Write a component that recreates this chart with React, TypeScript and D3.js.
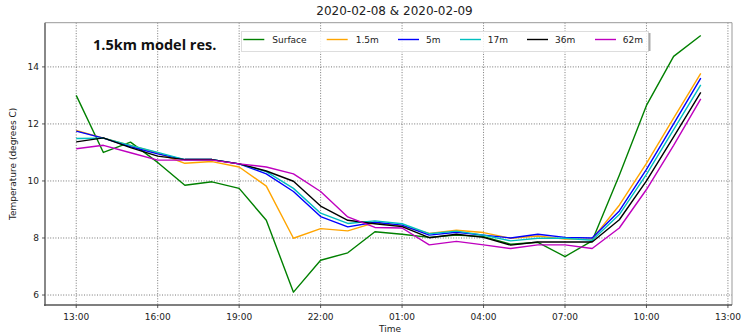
import React from "react";
import * as d3 from "d3";

const hours = d3.range(24);
const surface = [13.0, 11.0, 11.36, 10.65, 9.85, 9.97, 9.74, 8.62, 6.1, 7.22, 7.48, 8.22, 8.13, 8.02, 8.1, 8.05, 7.78, 7.85, 7.35, 7.9, 10.2, 12.65, 14.37, 15.1];
const m1_5 = [11.77, 11.5, 11.25, 10.98, 10.62, 10.68, 10.49, 9.82, 7.99, 8.33, 8.25, 8.54, 8.42, 8.16, 8.27, 8.19, 7.99, 8.07, 7.96, 7.96, 9.15, 10.62, 12.2, 13.77];
const m5 = [11.75, 11.5, 11.2, 10.95, 10.75, 10.75, 10.6, 10.25, 9.63, 8.75, 8.39, 8.55, 8.45, 8.1, 8.2, 8.1, 8.0, 8.13, 8.02, 8.0, 8.95, 10.41, 12.0, 13.61];
const m17 = [11.49, 11.5, 11.25, 11.0, 10.75, 10.75, 10.6, 10.33, 9.74, 8.87, 8.51, 8.6, 8.5, 8.15, 8.24, 8.1, 7.9, 7.99, 7.99, 7.92, 8.82, 10.23, 11.8, 13.37];
const m36 = [11.37, 11.51, 11.17, 10.87, 10.75, 10.75, 10.6, 10.35, 9.99, 9.12, 8.62, 8.5, 8.4, 8.01, 8.13, 8.02, 7.75, 7.86, 7.86, 7.86, 8.64, 10.0, 11.55, 13.11];
const m62 = [11.13, 11.25, 10.99, 10.73, 10.73, 10.73, 10.6, 10.49, 10.25, 9.63, 8.74, 8.37, 8.35, 7.76, 7.88, 7.76, 7.63, 7.76, 7.76, 7.63, 8.35, 9.7, 11.25, 12.88];

const seriesNames = ["Surface", "1.5m", "5m", "17m", "36m", "62m"];
const seriesValues = [surface, m1_5, m5, m17, m36, m62];
const seriesColors = ["#008000", "#FFA500", "#0000FF", "#00BFBF", "#000000", "#BF00BF"];
const yTicks = [6, 8, 10, 12, 14];

const W = 744;
const H = 335;
const M = { left: 45, right: 732, top: 22.7, bottom: 305 };
const start = new Date(2020, 1, 8, 13, 0, 0);
const HOUR = 3600 * 1000;

export default function App() {
  const x = d3
    .scaleTime()
    .domain([new Date(start.getTime() - 1.15 * HOUR), new Date(start.getTime() + 24.15 * HOUR)])
    .range([M.left, M.right]);
  const y = d3.scaleLinear().domain([5.65, 15.55]).range([M.bottom, M.top]);
  const xTicks = d3.range(0, 25, 3).map((h) => new Date(start.getTime() + h * HOUR));
  const fmt = d3.timeFormat("%H:%M");
  const line = d3
    .line<number>()
    .x((_, i) => x(new Date(start.getTime() + hours[i] * HOUR)))
    .y((v) => y(v));

  const legendItems = [
    { lx: 243.3, tx: 272.3 },
    { lx: 326.7, tx: 355.7 },
    { lx: 398, tx: 426 },
    { lx: 460, tx: 487.7 },
    { lx: 527, tx: 555 },
    { lx: 595, tx: 622.7 },
  ];
  const font = "DejaVu Sans, sans-serif";

  return (
    <svg width={W} height={H} style={{ position: "absolute", left: 0, top: 0, background: "#fff" }} fontFamily={font}>
      <rect x={0} y={0} width={W} height={H} fill="#fff" />
      {/* grid */}
      {xTicks.map((t, i) => (
        <line key={"gx" + i} x1={x(t)} x2={x(t)} y1={M.top} y2={M.bottom} stroke="#555" strokeWidth={0.8} strokeDasharray="1,1.6" />
      ))}
      {yTicks.map((v) => (
        <line key={"gy" + v} x1={M.left} x2={M.right} y1={y(v)} y2={y(v)} stroke="#555" strokeWidth={0.8} strokeDasharray="1,1.6" />
      ))}
      {/* series */}
      {seriesValues.map((vals, k) => (
        <path key={seriesNames[k]} d={line(vals) || ""} fill="none" stroke={seriesColors[k]} strokeWidth={1.4} strokeLinejoin="round" />
      ))}
      {/* spines */}
      <line x1={M.left} x2={M.right} y1={M.top} y2={M.top} stroke="#999" strokeWidth={1} />
      <line x1={M.right} x2={M.right} y1={M.top} y2={M.bottom} stroke="#999" strokeWidth={1} />
      <line x1={M.left} x2={M.left} y1={M.top} y2={M.bottom + 1} stroke="#888" strokeWidth={2} />
      <line x1={M.left - 1} x2={M.right} y1={M.bottom} y2={M.bottom} stroke="#555" strokeWidth={1.5} />
      {/* ticks */}
      {xTicks.map((t, i) => (
        <g key={"tx" + i}>
          <line x1={x(t)} x2={x(t)} y1={M.bottom} y2={M.bottom + 3} stroke="#333" strokeWidth={0.8} />
          <text x={x(t)} y={M.bottom + 15} textAnchor="middle" fontSize={9} fill="#222">
            {fmt(t)}
          </text>
        </g>
      ))}
      {yTicks.map((v) => (
        <g key={"ty" + v}>
          <line x1={M.left - 3} x2={M.left} y1={y(v)} y2={y(v)} stroke="#333" strokeWidth={0.8} />
          <text x={M.left - 6} y={y(v)} dy="0.35em" textAnchor="end" fontSize={9} fill="#222">
            {v}
          </text>
        </g>
      ))}
      {/* labels */}
      <text x={394.5} y={15} textAnchor="middle" fontSize={12} fill="#222">
        2020-02-08 &amp; 2020-02-09
      </text>
      <text x={390} y={332} textAnchor="middle" fontSize={9} fill="#222">
        Time
      </text>
      <text transform={`translate(16,${(M.top + M.bottom) / 2}) rotate(-90)`} textAnchor="middle" fontSize={9} fill="#222">
        Temperature (degrees C)
      </text>
      <text x={93} y={50} fontSize={14.5} fontWeight="bold" fontFamily="Open Sans, sans-serif" fill="#111">
        1.5km model res.
      </text>
      {/* legend */}
      <rect x={241.5} y={31.5} width={407} height={20} fill="#fff" fillOpacity={0.85} stroke="#ddd" strokeWidth={1} />
      <line x1={649.5} x2={649.5} y1={33} y2={51} stroke="#aaa" strokeWidth={2} />
      {legendItems.map((it, k) => (
        <g key={"lg" + k}>
          <line x1={it.lx} x2={it.lx + 21} y1={39.5} y2={39.5} stroke={seriesColors[k]} strokeWidth={1.4} />
          <text x={it.tx} y={39.5} dy="0.35em" fontSize={9} fill="#222">
            {seriesNames[k]}
          </text>
        </g>
      ))}
    </svg>
  );
}
